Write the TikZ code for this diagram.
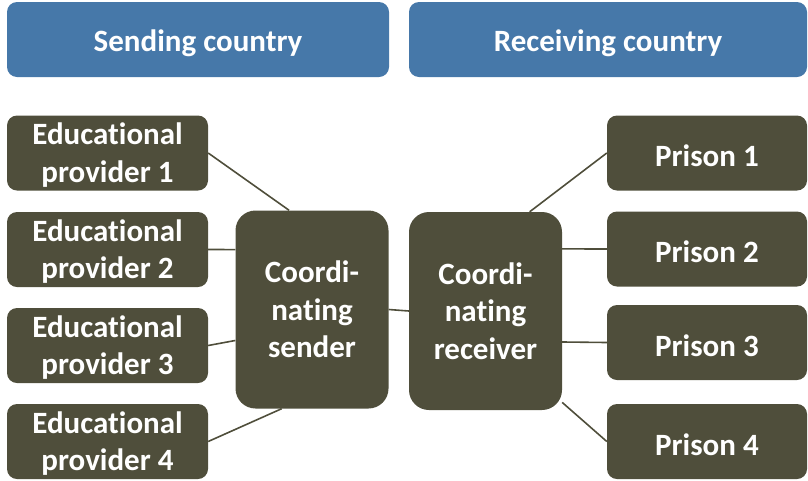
\documentclass[tikz,border=0pt]{standalone}
\usepackage{fontspec}
\setmainfont[Ligatures={NoCommon,NoRare,NoContextual}]{Carlito}
\usetikzlibrary{backgrounds}
\definecolor{hdrblue}{HTML}{4678A9}
\definecolor{olive}{HTML}{4F4E3B}
\newcommand{\twolines}[2]{\raisebox{0pt}[\dimexpr\height+3pt\relax][\dimexpr\depth-3pt\relax]{\begin{tabular}{@{}c@{}}#1\\#2\end{tabular}}}
\begin{document}
\begin{tikzpicture}[x=1pt,y=-1pt,
  hdr/.style={draw=none,fill=hdrblue,rounded corners=10pt,minimum height=75pt,text=white,font=\fontsize{31}{36}\selectfont\bfseries,inner sep=0pt,execute at begin node={\rule{0pt}{29pt}}},
  box/.style={draw=none,fill=olive,rounded corners=10pt,minimum width=201pt,minimum height=75pt,text=white,font=\fontsize{31}{37.5}\selectfont\bfseries,inner sep=0pt},
  onebox/.style={box,minimum width=200pt,execute at begin node={\rule{0pt}{28pt}}},
  coord/.style={box,align=center,rounded corners=20pt,minimum width=153pt,minimum height=198pt},
  link/.style={draw=olive,line width=1.6pt}]
\useasboundingbox (0,0) rectangle (808,480);
\node[hdr,minimum width=382pt] (h1) at (198,39.5) {Sending country};
\node[hdr,minimum width=398pt] (h2) at (608,39.5) {Receiving country};
\node[box] (e1) at (107.5,153) {\twolines{Educational}{provider 1}};
\node[box] (e2) at (107.5,249.5) {\twolines{Educational}{provider 2}};
\node[box] (e3) at (107.5,345.5) {\twolines{Educational}{provider 3}};
\node[box] (e4) at (107.5,441.5) {\twolines{Educational}{provider 4}};
\node[coord] (snd) at (312,309.5) {Coordi-\\nating\\sender};
\node[coord] (rcv) at (485.5,311) {Coordi-\\nating\\receiver};
\node[onebox] (p1) at (707,153) {Prison 1};
\node[onebox] (p2) at (707,249) {Prison 2};
\node[onebox] (p3) at (707,342.5) {Prison 3};
\node[onebox] (p4) at (707,441.5) {Prison 4};
\begin{scope}[on background layer]
\draw[link] (e1.east) -- (snd.103);
\draw[link] (e2.east) -- (snd.142);
\draw[link] (e3.east) -- (snd.202);
\draw[link] (e4.east) -- (snd.253);
\draw[link] (snd.east) -- (rcv.west);
\draw[link] (rcv.66) -- (p1.west);
\draw[link] (rcv.39) -- (p2.west);
\draw[link] (rcv.-22) -- (p3.west);
\draw[link] (rcv.-50) -- (p4.west);
\end{scope}
\end{tikzpicture}
\end{document}
